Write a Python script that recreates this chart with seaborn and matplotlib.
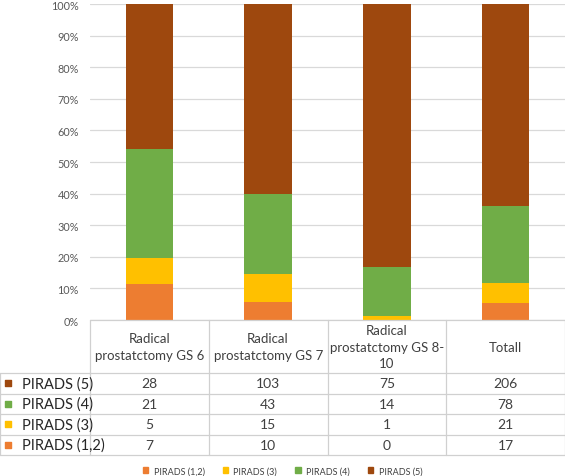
import numpy as np
import pandas as pd
import matplotlib
matplotlib.use("Agg")
import matplotlib.pyplot as plt
import matplotlib.ticker as ticker
from matplotlib.patches import Patch
import seaborn as sns

sns.set_style("white")
plt.rcParams['font.family'] = ['Lato', 'DejaVu Sans']

# data
groups = ["Radical\nprostatctomy GS 6", "Radical\nprostatctomy GS 7",
          "Radical\nprostatctomy GS 8-\n10", "Totall"]
series = ["PIRADS (1,2)", "PIRADS (3)", "PIRADS (4)", "PIRADS (5)"]
pirads_12 = [7, 10, 0, 17]
pirads_3 = [5, 15, 1, 21]
pirads_4 = [21, 43, 14, 78]
pirads_5 = [28, 103, 75, 206]
colors = ["#ED7D31", "#FFC000", "#70AD47", "#9E480E"]

counts = np.array([pirads_12, pirads_3, pirads_4, pirads_5], dtype=float)
pct = counts / counts.sum(axis=0) * 100
cum = pct.cumsum(axis=0)

fig = plt.figure(figsize=(5.65, 4.77), dpi=100)
ax = fig.add_axes([90 / 565, 156 / 477, 475 / 565, 316 / 477])

# stacked bars: draw cumulative heights, tallest first
xlab = [f"g{i}" for i in range(len(groups))]
for k in range(len(series) - 1, -1, -1):
    df = pd.DataFrame({"grp": xlab, "val": cum[k]})
    sns.barplot(data=df, x="grp", y="val", color=colors[k], width=0.4,
                saturation=1, ax=ax, zorder=3, edgecolor="none", linewidth=0)

ax.set_ylim(0, 100)
ax.set_xlim(-0.5, 3.5)
ax.yaxis.set_major_locator(ticker.MultipleLocator(10))
ax.yaxis.set_major_formatter(ticker.FuncFormatter(lambda v, p: f"{v:.0f}%"))
ax.grid(axis="y", color="#D9D9D9", linewidth=0.9, zorder=0)
ax.set_xticks([])
ax.set_xlabel("")
ax.set_ylabel("")
for s in ax.spines.values():
    s.set_visible(False)
ax.tick_params(axis="y", length=0, labelsize=7.8, labelcolor="#595959", pad=8)

# data table below the bars
tax = fig.add_axes([0, 21 / 477, 1, 135 / 477])
left_edge = -0.5 - 90 / 118.75
tax.set_xlim(left_edge, 3.5)
tax.set_ylim(135, 0)
tax.axis("off")
line_c = "#D0D0D0"
hdr_h = 53
row_h = 20.5
txt_c = "#404040"

# vertical lines
for xb in [-0.5, 0.5, 1.5, 2.5, 3.5]:
    tax.plot([xb, xb], [0, 135], color=line_c, lw=0.9, clip_on=False)
tax.plot([left_edge + 0.003, left_edge + 0.003], [hdr_h, 135], color=line_c, lw=0.9, clip_on=False)
# horizontal lines
tax.plot([-0.5, 3.5], [0, 0], color=line_c, lw=0.9, clip_on=False)
for r in range(5):
    yy = hdr_h + r * row_h
    tax.plot([left_edge, 3.5], [yy, yy], color=line_c, lw=0.9, clip_on=False)

for i, g in enumerate(groups):
    tax.text(i, hdr_h / 2, g, ha="center", va="center", fontsize=9.5,
             color=txt_c, linespacing=1.45)

rows = [3, 2, 1, 0]
for r, k in enumerate(rows):
    yc = hdr_h + (r + 0.5) * row_h
    tax.scatter([left_edge + 0.07], [yc], marker="s", s=24, color=colors[k], clip_on=False)
    tax.text(left_edge + 0.185, yc, series[k], ha="left", va="center",
             fontsize=10.5, color="#262626")
    for i in range(len(groups)):
        tax.text(i, yc, f"{int(counts[k, i])}", ha="center", va="center",
                 fontsize=10, color=txt_c)

handles = [Patch(color=c, label=s) for c, s in zip(colors, series)]
fig.legend(handles=handles, loc="center", bbox_to_anchor=(0.5, 5 / 477), ncol=4,
           frameon=False, fontsize=6.5, handlelength=0.6, handleheight=0.6,
           columnspacing=2.0, handletextpad=0.6, labelcolor="#404040")

fig.savefig("out.png", dpi=100)
